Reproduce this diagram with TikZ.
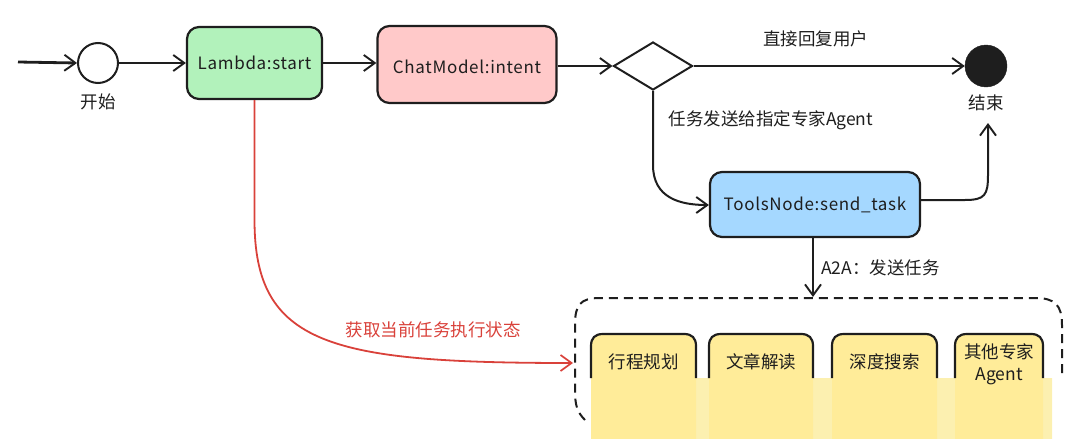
\documentclass[tikz,border=0pt]{standalone}
\usepackage{fontspec}
\setmainfont{Noto Sans CJK SC}
\newfontfamily\latinfont[LetterSpace=4]{Noto Sans CJK SC}
\usetikzlibrary{arrows.meta,shapes.geometric}
\definecolor{gfill}{HTML}{B2F2BB}
\definecolor{pfill}{HTML}{FFC9C9}
\definecolor{bfill}{HTML}{A5D8FF}
\definecolor{yfill}{HTML}{FFEC99}
\definecolor{yband}{HTML}{FCF0B0}
\definecolor{redline}{HTML}{D9413A}
\definecolor{ink}{HTML}{1E1E1E}
\tikzset{
  flowbox/.style={draw=ink,line width=2.2pt,rounded corners=12pt,inner sep=0pt},
  cjktext/.style={font=\fontsize{17.5}{20}\selectfont,text=ink},
  codetext/.style={font=\latinfont\fontsize{17}{20}\selectfont,text=ink},
  conn/.style={draw=ink,line width=2pt,-{Straight Barb[length=11pt,width=16pt,line width=1.9pt]}},
}
\begin{document}
\begin{tikzpicture}[x=1pt,y=-1pt]
\useasboundingbox (0,0) rectangle (1080,439);
% start circle
\node (start) [circle,draw=ink,line width=2pt,minimum size=40pt,inner sep=0pt] at (98,63) {};
\node (startlbl) [cjktext] at (98,102) {开始};
\coordinate (entry) at (18,62);
\draw[conn,line width=2.8pt] (entry) -- (start.west);
% Lambda
\node (lambda) [flowbox,fill=gfill,minimum width=135pt,minimum height=72pt] at (254.5,63) {};
\node (lambdatxt) [codetext] at (254.5,63) {Lambda:start};
\draw[conn] (start.east) -- (lambda.west);
% ChatModel
\node (chat) [flowbox,fill=pfill,minimum width=179pt,minimum height=77pt] at (467,64.5) {};
\node (chattxt) [codetext] at (467,67) {ChatModel:intent};
\draw[conn] (lambda.east) -- (chat.west |- lambda.east);
% diamond
\node (dec) [diamond,draw=ink,line width=2pt,minimum width=79pt,minimum height=48pt,inner sep=0pt,aspect=1.65] at (653,66) {};
\draw[conn] (chat.east |- dec.west) -- (dec.west);
% end
\node (end) [circle,fill=ink,draw=ink,minimum size=42pt,inner sep=0pt] at (986,66) {};
\node (endlbl) [cjktext] at (986,103) {结束};
\draw[conn,line width=2.8pt] (dec.east) -- node[cjktext,above=14pt,pos=0.45] (replylbl) {直接回复用户} (end.west);
% ToolsNode
\node (tools) [flowbox,fill=bfill,minimum width=210pt,minimum height=65pt] at (815,204.5) {};
\node (toolstxt) [codetext] at (815,205) {ToolsNode:send\_task};
\draw[conn] (dec.south) -- (653,165) .. controls (653,198) and (680,205) .. (tools.west |- 0,205);
\node (sendlbl) [cjktext,anchor=west] at (665,120) {任务发送给指定专家Agent};
\coordinate (endin) at (988,123);
\draw[conn] (tools.east |- 0,200) -- (965,200) .. controls (985,200) and (988,195) .. (988,175) -- (endin);
% container
\draw[ink,line width=2pt,dash pattern=on 9pt off 6pt]
  (585,420) .. controls (577,412) and (575,405) .. (575,390) -- (575,325)
  .. controls (575,305) and (580,298) .. (600,298) -- (1035,298)
  .. controls (1055,298) and (1062,305) .. (1062,325) -- (1062,378);
\coordinate (conttop) at (813,297);
\draw[conn] (tools.south -| conttop) -- node[cjktext,anchor=west,xshift=4pt] (a2albl) {A2A：发送任务} (conttop);
% band
\fill[yband] (600,378) -- (1052,378) -- (1052,439) -- (668,439) -- cycle;
% agent boxes
\foreach \n/\xa/\xb in {a/591/696,b/709/813,c/832/937,d/955/1043}{
  \fill[yfill] (\xa,439) -- (\xa,346) .. controls (\xa,338) and (\xa+4,334) .. (\xa+12,334) -- (\xb-12,334) .. controls (\xb-4,334) and (\xb,338) .. (\xb,346) -- (\xb,439) -- cycle;
  \draw[ink,line width=2.2pt] (\xa,378) -- (\xa,346) .. controls (\xa,338) and (\xa+4,334) .. (\xa+12,334) -- (\xb-12,334) .. controls (\xb-4,334) and (\xb,338) .. (\xb,346) -- (\xb,378);
}
\node (ag1) [cjktext] at (643.5,362) {行程规划};
\node (ag2) [cjktext] at (761,362) {文章解读};
\node (ag3) [cjktext] at (884.5,362) {深度搜索};
\node (ag4) [cjktext,align=center,font=\fontsize{17.5}{22}\selectfont] at (999,364) {其他专家\\Agent};
% red connector
\coordinate (redend) at (573,363);
\draw[conn,draw=redline,line width=1.8pt,-{Straight Barb[length=11pt,width=16pt,line width=1.7pt,color=redline]}]
  (lambda.south) -- (254.5,220) .. controls (254.5,345) and (330,363) .. (redend);
\node (redlbl) [font=\fontsize{17.5}{20}\selectfont,text=redline] at (433,330) {获取当前任务执行状态};
\end{tikzpicture}
\end{document}
